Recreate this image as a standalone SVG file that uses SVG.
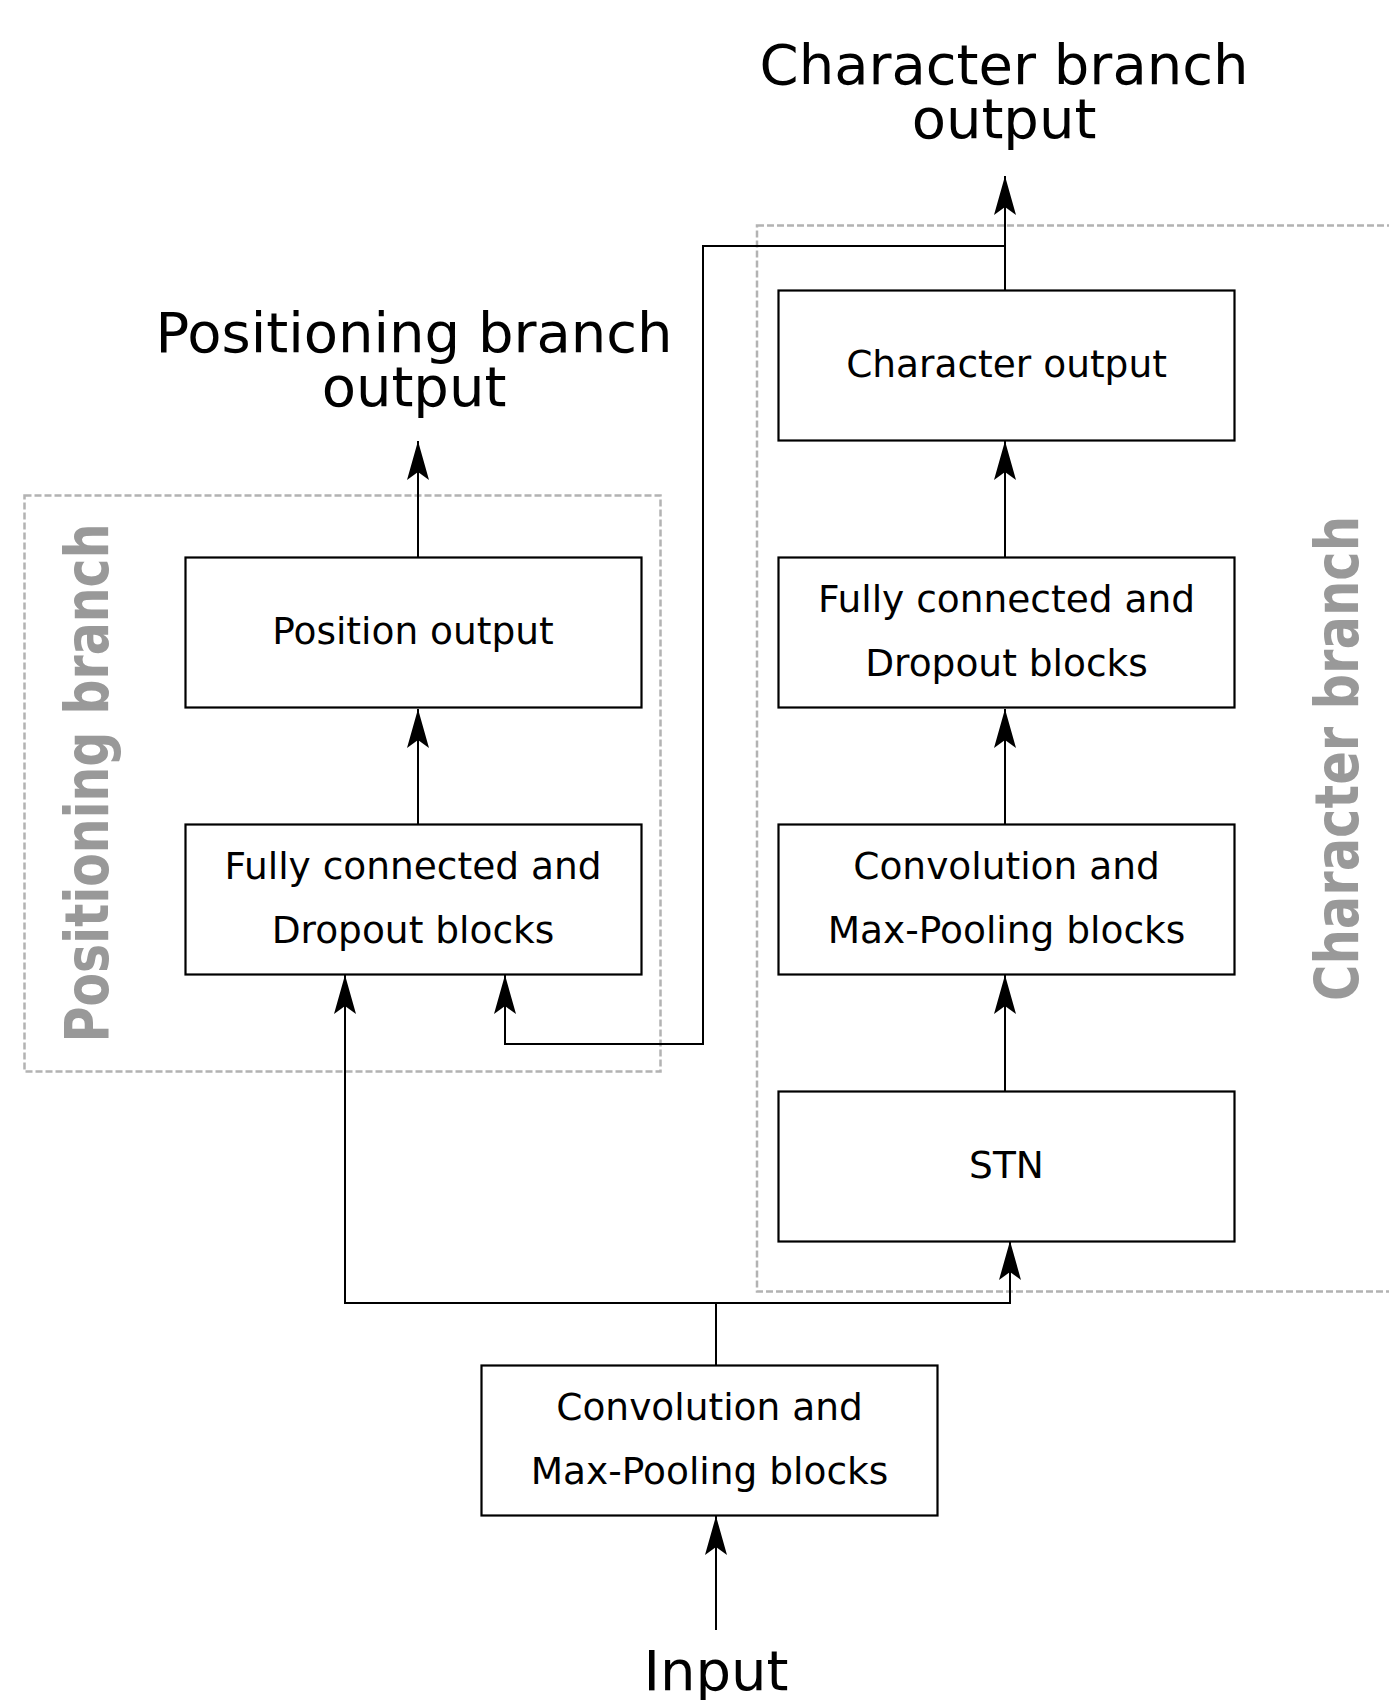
<svg xmlns="http://www.w3.org/2000/svg" width="1389" height="1700" viewBox="0 0 1389 1700">
<style>
.box{fill:#fff;stroke:#000;stroke-width:2.2}
.bt{font-family:"DejaVu Sans",Verdana,sans-serif;font-size:37.5px;fill:#000;text-anchor:middle}
.title{font-family:"DejaVu Sans",Verdana,sans-serif;font-size:56px;fill:#000;text-anchor:middle}
.grp{fill:none;stroke:#b3b3b3;stroke-width:2.5;stroke-dasharray:7 3}
.vt{font-family:"DejaVu Sans",Verdana,sans-serif;font-weight:bold;font-size:61px;fill:#999;text-anchor:middle}
.c{fill:none;stroke:#000;stroke-width:2}
</style>
<defs>
<marker id="arr" markerUnits="userSpaceOnUse" markerWidth="44" markerHeight="26" viewBox="-41 -13 44 26" refX="0" refY="0" orient="auto">
<path d="M0,0 L-39,-11 L-31,0 L-39,11 Z" fill="#000"/>
</marker>
</defs>
<g id="positioning-group">
<rect class="grp" x="24.5" y="495.5" width="636" height="576"/>
<text class="vt" transform="translate(108,783) rotate(-90)" textLength="519" lengthAdjust="spacingAndGlyphs">Positioning branch</text>
</g>
<g id="character-group">
<rect class="grp" x="757" y="225.5" width="700" height="1066"/>
<text class="vt" transform="translate(1358,758.5) rotate(-90)" textLength="485" lengthAdjust="spacingAndGlyphs">Character branch</text>
</g>
<g id="connectors">
<path class="c" d="M1005,290 V176" marker-end="url(#arr)"/>
<path class="c" d="M1005,246 H703 V1044 H505 V975" marker-end="url(#arr)"/>
<path class="c" d="M418,557 V441" marker-end="url(#arr)"/>
<path class="c" d="M418,824 V709" marker-end="url(#arr)"/>
<path class="c" d="M1005,557 V441" marker-end="url(#arr)"/>
<path class="c" d="M1005,824 V709" marker-end="url(#arr)"/>
<path class="c" d="M1005,1091 V975" marker-end="url(#arr)"/>
<path class="c" d="M716,1365 V1303 H345 V975" marker-end="url(#arr)"/>
<path class="c" d="M716,1303 H1010 V1241" marker-end="url(#arr)"/>
<path class="c" d="M716,1630 V1516" marker-end="url(#arr)"/>
</g>
<g id="char-branch-output">
<text class="title" x="1004" y="84">Character branch</text>
<text class="title" x="1004" y="138">output</text>
</g>
<g id="pos-branch-output">
<text class="title" x="414" y="352">Positioning branch</text>
<text class="title" x="414" y="406">output</text>
</g>
<g id="character-output">
<rect class="box" x="778.5" y="290.5" width="456" height="150"/>
<text class="bt" x="1006.5" y="377">Character output</text>
</g>
<g id="char-fc">
<rect class="box" x="778.5" y="557.5" width="456" height="150"/>
<text class="bt" x="1006.5" y="612">Fully connected and</text>
<text class="bt" x="1006.5" y="676">Dropout blocks</text>
</g>
<g id="char-conv">
<rect class="box" x="778.5" y="824.5" width="456" height="150"/>
<text class="bt" x="1006.5" y="879">Convolution and</text>
<text class="bt" x="1006.5" y="943">Max-Pooling blocks</text>
</g>
<g id="stn">
<rect class="box" x="778.5" y="1091.5" width="456" height="150"/>
<text class="bt" x="1006.5" y="1178">STN</text>
</g>
<g id="position-output">
<rect class="box" x="185.5" y="557.5" width="456" height="150"/>
<text class="bt" x="413" y="644">Position output</text>
</g>
<g id="pos-fc">
<rect class="box" x="185.5" y="824.5" width="456" height="150"/>
<text class="bt" x="413" y="879">Fully connected and</text>
<text class="bt" x="413" y="943">Dropout blocks</text>
</g>
<g id="shared-conv">
<rect class="box" x="481.5" y="1365.5" width="456" height="150"/>
<text class="bt" x="709.5" y="1420">Convolution and</text>
<text class="bt" x="709.5" y="1484">Max-Pooling blocks</text>
</g>
<g id="input">
<text class="title" x="716" y="1690">Input</text>
</g>
</svg>
